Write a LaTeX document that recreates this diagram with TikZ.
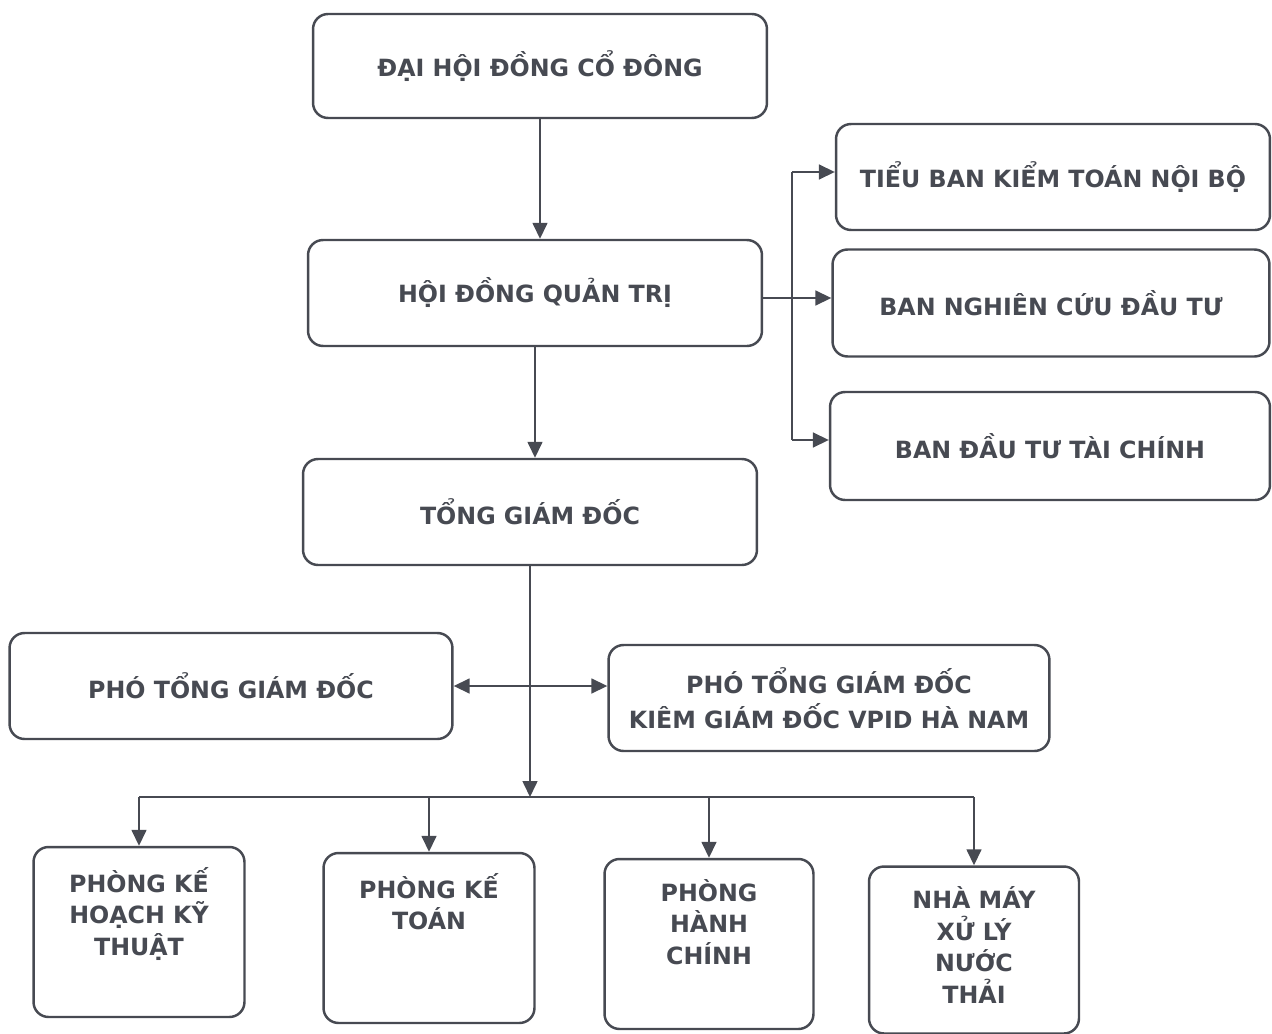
\documentclass[tikz,border=0pt]{standalone}
\usepackage{fontspec}
\setmainfont{DejaVu Sans}
\usetikzlibrary{arrows.meta, positioning, calc}
\definecolor{inkgray}{HTML}{474A52}

\begin{document}
\begin{tikzpicture}[x=0.02cm, y=-0.02cm,
    box/.style={draw=inkgray, line width=1.4pt, rounded corners=0.3cm, text=inkgray,
        font=\bfseries\fontsize{13.5}{18}\selectfont, align=center, inner sep=0pt},
    link/.style={draw=inkgray, line width=0.9pt},
    arr/.style={link, -{Triangle[length=0.32cm, width=0.3cm]}},
    darr/.style={link, {Triangle[length=0.32cm, width=0.3cm]}-{Triangle[length=0.32cm, width=0.3cm]}}]
    \useasboundingbox (0,0) rectangle (1272,1034);

    % Top of the chart
    \node[box, minimum width=9.08cm, minimum height=2.08cm] (dhdcd) at (540,66) {ĐẠI HỘI ĐỒNG CỔ ĐÔNG};
    \node[box, minimum width=9.08cm, minimum height=2.12cm] (hdqt) at (535,293) {HỘI ĐỒNG QUẢN TRỊ};
    \node[box, minimum width=9.08cm, minimum height=2.12cm] (tgd) at (530,512) {TỔNG GIÁM ĐỐC};

    % Boards on the right
    \node[box, minimum width=8.68cm, minimum height=2.12cm] (tbkt) at (1053,177) {TIỂU BAN KIỂM TOÁN NỘI BỘ};
    \node[box, minimum width=8.74cm, minimum height=2.14cm] (bnc) at (1051,303) {BAN NGHIÊN CỨU ĐẦU TƯ};
    \node[box, minimum width=8.8cm, minimum height=2.16cm] (bdt) at (1050,446) {BAN ĐẦU TƯ TÀI CHÍNH};

    % Deputies
    \node[box, minimum width=8.86cm, minimum height=2.12cm] (ptgd) at (231,686) {PHÓ TỔNG GIÁM ĐỐC};
    \node[box, minimum width=8.82cm, minimum height=2.12cm] (ptgdk) at (829,698) {PHÓ TỔNG GIÁM ĐỐC\\[2pt]KIÊM GIÁM ĐỐC VPID HÀ NAM};

    % Departments
    \node[box, minimum width=4.22cm, minimum height=3.4cm] (pkh) at (139,932)
        {\parbox[c][2.6cm][t]{4cm}{\centering PHÒNG KẾ\\HOẠCH KỸ\\THUẬT}};
    \node[box, minimum width=4.22cm, minimum height=3.4cm] (pkt) at (429,938)
        {\parbox[c][2.6cm][t]{4cm}{\centering PHÒNG KẾ\\TOÁN}};
    \node[box, minimum width=4.18cm, minimum height=3.4cm] (phc) at (709,944)
        {\parbox[c][2.6cm][t]{4cm}{\centering PHÒNG\\HÀNH\\CHÍNH}};
    \node[box, minimum width=4.2cm, minimum height=3.34cm] (nm) at (974,950)
        {\parbox[c][2.54cm][t]{4cm}{\centering NHÀ MÁY\\XỬ LÝ\\NƯỚC\\THẢI}};

    % Vertical chain
    \draw[arr] (dhdcd.south) -- (dhdcd.south |- hdqt.north);
    \draw[arr] (hdqt.south) -- (hdqt.south |- tgd.north);

    % Branch to the boards
    \coordinate (fork) at (792,298);
    \draw[link] (hdqt.east |- fork) -- (fork);
    \draw[arr] (fork) -- (fork -| bnc.west);
    \draw[link] (792,172) -- (792,440);
    \draw[arr] (792,172) -- (792,172 -| tbkt.west);
    \draw[arr] (792,440) -- (792,440 -| bdt.west);

    % Bus to the departments
    \coordinate (bus) at (tgd.south |- 0,797);
    \draw[arr] (tgd.south) -- (bus);
    \draw[link] (pkh.north |- bus) -- (nm.north |- bus);
    \foreach \dep in {pkh, pkt, phc, nm} {
        \draw[arr] (\dep.north |- bus) -- (\dep.north);
    }

    % Deputies linked both ways
    \draw[darr] (ptgd.east) -- (ptgd.east -| ptgdk.west);
\end{tikzpicture}
\end{document}
